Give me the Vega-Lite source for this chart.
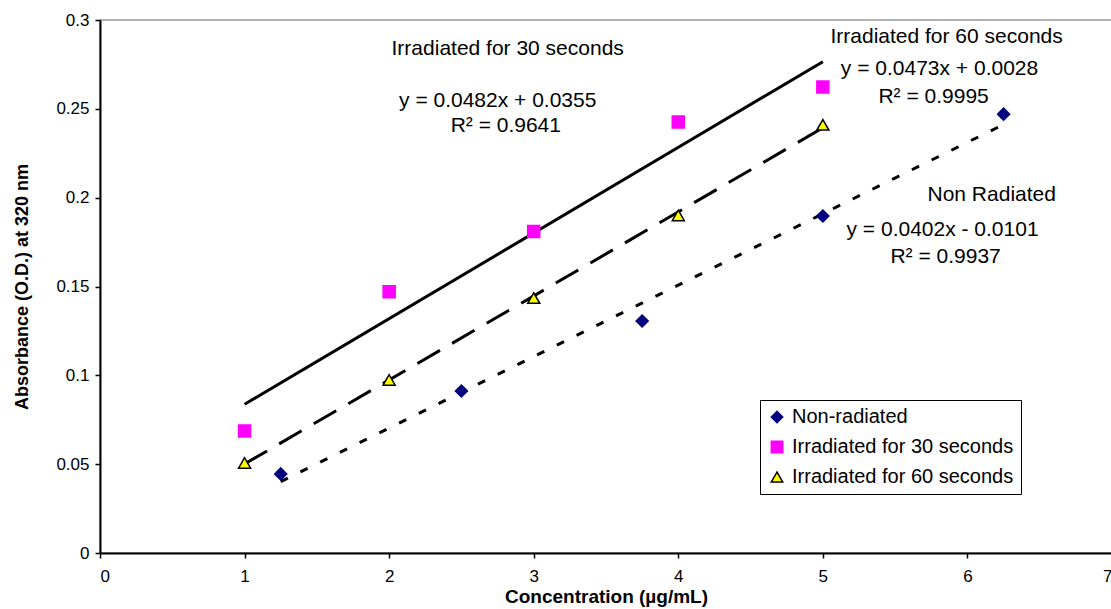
{
  "$schema": "https://vega.github.io/schema/vega-lite/v6.json",
  "width": 1012,
  "height": 533,
  "autosize": {"type": "none"},
  "padding": {"left": 100, "top": 20, "right": 0, "bottom": 56},
  "background": "white",
  "config": {
    "font": "Liberation Sans",
    "view": {"stroke": "#999999", "strokeWidth": 1.5},
    "axis": {"grid": false, "domainColor": "black", "domainWidth": 2, "tickColor": "black", "tickWidth": 1.5, "tickSize": 5, "labelColor": "black", "labelFont": "Liberation Sans", "labelFontSize": 17, "titleColor": "black"}
  },
  "datasets": {
    "points": [
      {"series": "Non-radiated", "conc": 1.25, "abs": 0.0445},
      {"series": "Non-radiated", "conc": 2.5, "abs": 0.0912},
      {"series": "Non-radiated", "conc": 3.75, "abs": 0.1306},
      {"series": "Non-radiated", "conc": 5, "abs": 0.1897},
      {"series": "Non-radiated", "conc": 6.25, "abs": 0.247},
      {"series": "Irradiated for 30 seconds", "conc": 1, "abs": 0.0687},
      {"series": "Irradiated for 30 seconds", "conc": 2, "abs": 0.147},
      {"series": "Irradiated for 30 seconds", "conc": 3, "abs": 0.181},
      {"series": "Irradiated for 30 seconds", "conc": 4, "abs": 0.2426},
      {"series": "Irradiated for 30 seconds", "conc": 5, "abs": 0.2623},
      {"series": "Irradiated for 60 seconds", "conc": 1, "abs": 0.0507},
      {"series": "Irradiated for 60 seconds", "conc": 2, "abs": 0.0974},
      {"series": "Irradiated for 60 seconds", "conc": 3, "abs": 0.1435},
      {"series": "Irradiated for 60 seconds", "conc": 4, "abs": 0.19},
      {"series": "Irradiated for 60 seconds", "conc": 5, "abs": 0.241}
    ],
    "trends30": [
      {"conc": 1, "abs": 0.0837},
      {"conc": 5, "abs": 0.2765}
    ],
    "trends60": [
      {"conc": 1, "abs": 0.0501},
      {"conc": 5, "abs": 0.2393}
    ],
    "trendsNon": [
      {"conc": 1.25, "abs": 0.0402},
      {"conc": 6.25, "abs": 0.2412}
    ],
    "labels": [
      {"text": "Irradiated for 30 seconds", "conc": 2.82, "abs": 0.2837},
      {"text": "y = 0.0482x + 0.0355", "conc": 2.751, "abs": 0.2544},
      {"text": "R² = 0.9641", "conc": 2.807, "abs": 0.2403},
      {"text": "Irradiated for 60 seconds", "conc": 5.856, "abs": 0.2904},
      {"text": "y = 0.0473x + 0.0028", "conc": 5.807, "abs": 0.2724},
      {"text": "R² = 0.9995", "conc": 5.766, "abs": 0.2567},
      {"text": "Non Radiated", "conc": 6.168, "abs": 0.2015},
      {"text": "y = 0.0402x - 0.0101", "conc": 5.828, "abs": 0.1818},
      {"text": "R² = 0.9937", "conc": 5.849, "abs": 0.1666}
    ]
  },
  "encoding": {
    "x": {"field": "conc", "type": "quantitative", "scale": {"domain": [0, 7], "nice": false, "zero": false},
      "axis": {"values": [0, 1, 2, 3, 4, 5, 6, 7], "format": "d", "labelPadding": 10, "title": "Concentration (µg/mL)", "titleFont": "Liberation Sans", "titleFontSize": 19, "titleFontWeight": "bold", "titlePadding": 3}},
    "y": {"field": "abs", "type": "quantitative", "scale": {"domain": [0, 0.3], "nice": false},
      "axis": {"values": [0, 0.05, 0.1, 0.15, 0.2, 0.25, 0.3], "format": "~g", "labelPadding": 6, "title": "Absorbance (O.D.) at 320 nm", "titleFont": "Liberation Sans", "titleFontSize": 18, "titleFontWeight": "bold", "titlePadding": 24}}
  },
  "layer": [
    {
      "data": {"name": "trendsNon"},
      "mark": {"type": "line", "color": "black", "strokeWidth": 3, "strokeCap": "butt"},
      "encoding": {"strokeDash": {"value": [8, 14]}}
    },
    {
      "data": {"name": "trends30"},
      "mark": {"type": "line", "color": "black", "strokeWidth": 3, "strokeCap": "butt"},
      "encoding": {}
    },
    {
      "data": {"name": "trends60"},
      "mark": {"type": "line", "color": "black", "strokeWidth": 3, "strokeCap": "butt"},
      "encoding": {"strokeDash": {"value": [26, 14]}}
    },
    {
      "data": {"name": "points"},
      "mark": {"type": "point", "filled": true, "opacity": 1, "strokeWidth": 1.5, "size": 145},
      "encoding": {
        "shape": {"field": "series", "type": "nominal", "title": null,
          "scale": {"domain": ["Non-radiated", "Irradiated for 30 seconds", "Irradiated for 60 seconds"], "range": ["diamond", "square", "triangle-up"]},
          "legend": {"orient": "none", "legendX": 660, "legendY": 380, "strokeColor": "black", "fillColor": "white", "padding": 7, "labelFontSize": 20, "labelColor": "black", "rowPadding": 10, "labelLimit": 400, "symbolSize": 130, "symbolStrokeWidth": 1.5, "labelOffset": 5}},
        "fill": {"field": "series", "type": "nominal", "title": null,
          "scale": {"domain": ["Non-radiated", "Irradiated for 30 seconds", "Irradiated for 60 seconds"], "range": ["#000080", "#FF00FF", "#FFFF00"]}},
        "stroke": {"field": "series", "type": "nominal", "title": null,
          "scale": {"domain": ["Non-radiated", "Irradiated for 30 seconds", "Irradiated for 60 seconds"], "range": ["#000080", "#FF00FF", "#000000"]}}
      }
    },
    {
      "data": {"name": "labels"},
      "mark": {"type": "text", "font": "Liberation Sans", "fontSize": 21, "color": "black", "align": "center", "baseline": "middle"},
      "encoding": {"text": {"field": "text"}}
    }
  ]
}
